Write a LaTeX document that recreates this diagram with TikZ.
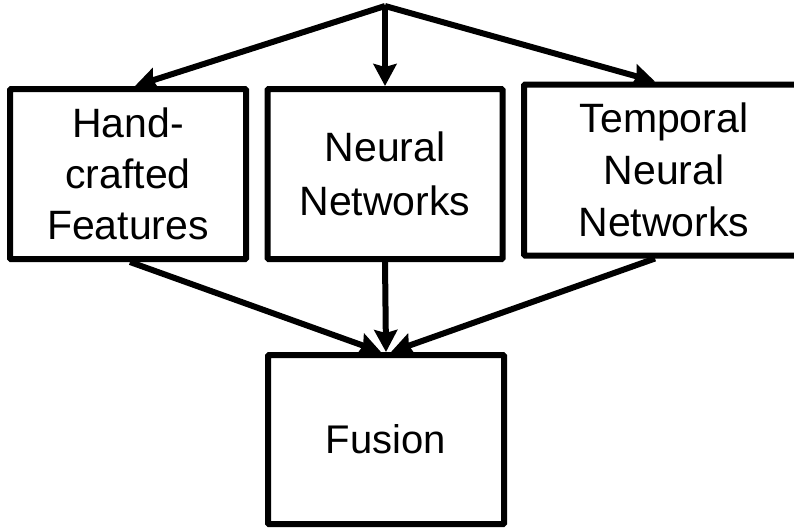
\documentclass[tikz,border=0pt]{standalone}
\usepackage{fontspec}
\setmainfont{Liberation Sans}
\usetikzlibrary{arrows.meta}
\tikzset{
  box/.style={draw, line width=6pt, rounded corners=1pt, align=center, inner sep=0pt,
    font=\fontsize{41}{52}\selectfont},
  link/.style={line width=6pt, -{Stealth[length=22pt,width=23pt,inset=3pt]}}
}
\begin{document}
\begin{tikzpicture}[x=1pt,y=-1pt]
  \useasboundingbox (0,0) rectangle (794,531);
  \coordinate (src) at (385,6);
  \node[box, minimum width=236pt, minimum height=170pt, font=\fontsize{41}{51}\selectfont] (hf) at (128,174) {Hand-\\crafted\\Features};
  \node[box, minimum width=235pt, minimum height=170pt, font=\fontsize{41}{54}\selectfont] (nn) at (385,174) {Neural\\Networks};
  \node[box, minimum width=280pt, minimum height=171pt] (tn) at (664,170) {Temporal\\Neural\\Networks};
  \node[box, minimum width=236pt, minimum height=169pt, font=\fontsize{40}{48}\selectfont] (fu) at (386,439.5) {Fusion};
  % fan-out from the common source
  \draw[link] (src) -- ([xshift=7pt]hf.north);
  \draw[link] (src) -- (nn.north);
  \draw[link] (src) -- ([xshift=-9pt]tn.north);
  % fan-in to the fusion stage
  \draw[link] ([xshift=2pt]hf.south) -- ([xshift=-5pt]fu.north);
  \draw[link] (nn.south) -- (fu.north);
  \draw[link] ([xshift=-9pt]tn.south) -- ([xshift=5pt]fu.north);
\end{tikzpicture}
\end{document}
